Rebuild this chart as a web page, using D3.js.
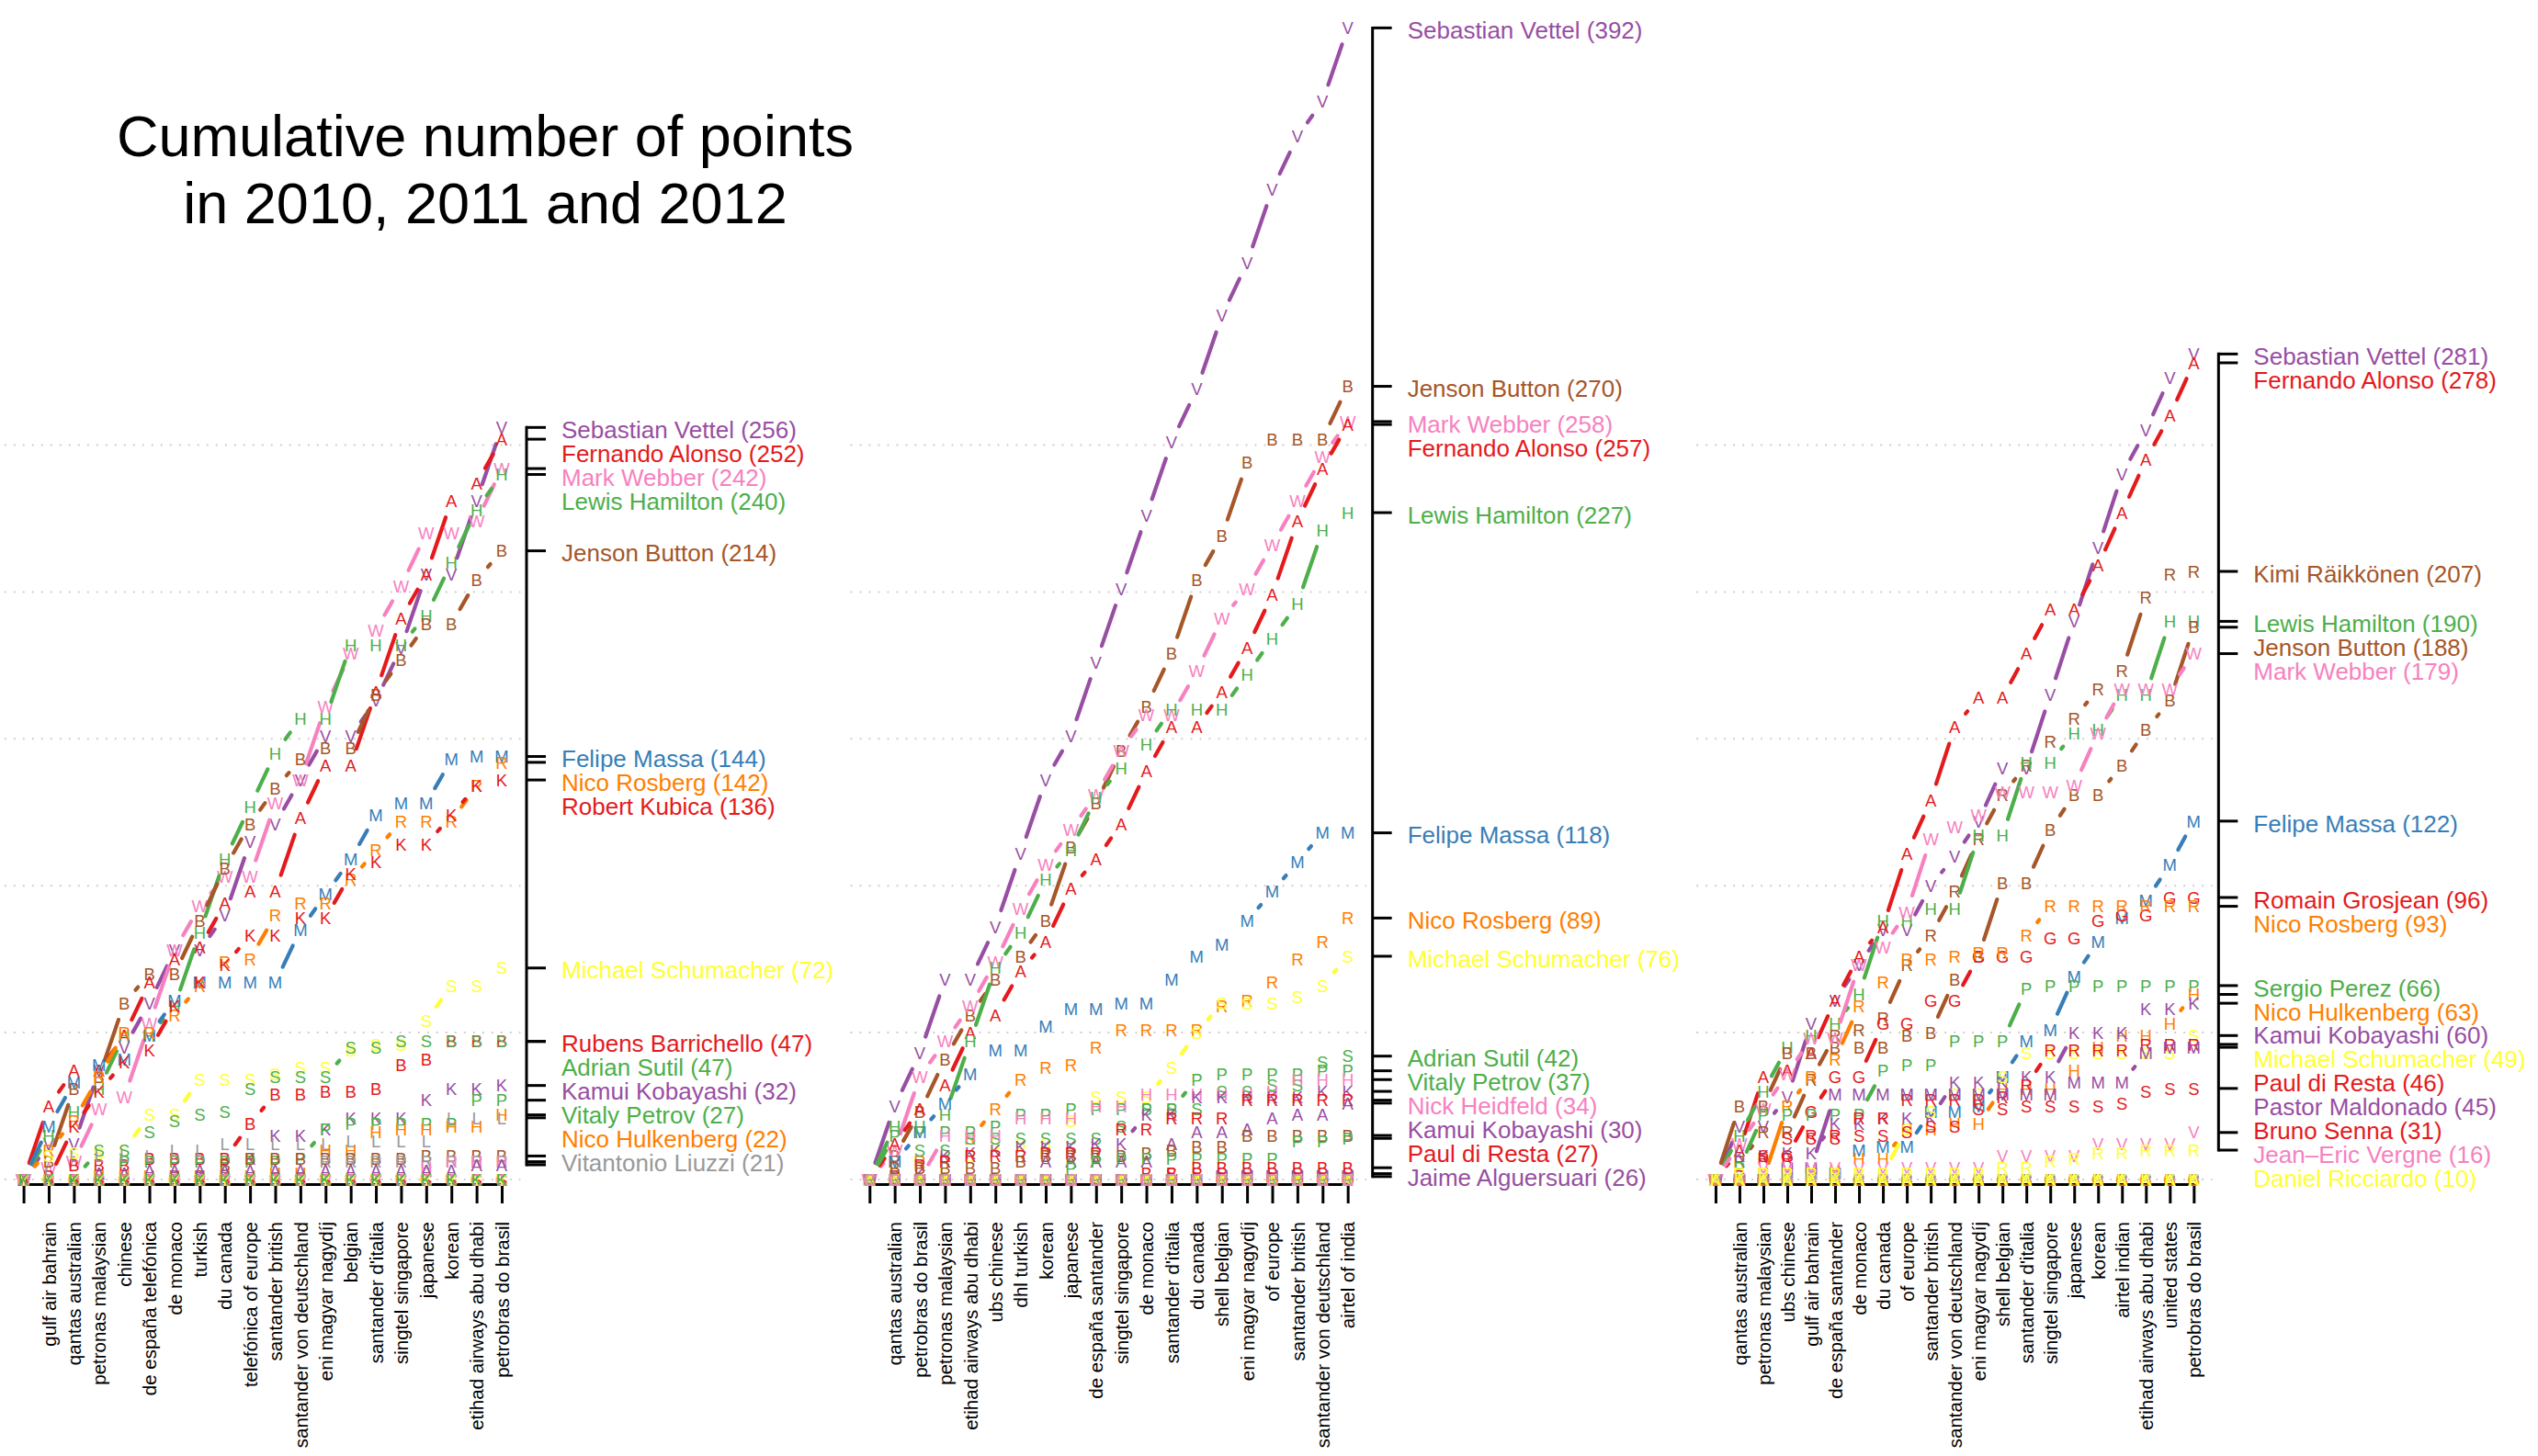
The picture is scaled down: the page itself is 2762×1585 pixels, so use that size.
<!DOCTYPE html>
<html><head><meta charset="utf-8">
<script src="https://cdn.jsdelivr.net/npm/d3@7"></script>
<style>
body{margin:0;background:#fff}
svg{display:block}
text{font-family:"Liberation Sans",Arial,Helvetica,sans-serif}
</style>
</head><body>
<svg id="chart" width="2762" height="1585"></svg>
<script>
// ---------------- DATA ----------------
const races2010 = ["gulf air bahrain","qantas australian","petronas malaysian","chinese","de españa telefónica","de monaco","turkish","du canada","telefónica of europe","santander british","santander von deutschland","eni magyar nagydíj","belgian","santander d'italia","singtel singapore","japanese","korean","etihad airways abu dhabi","petrobras do brasil"];
const races2011 = ["qantas australian","petrobras do brasil","petronas malaysian","etihad airways abu dhabi","ubs chinese","dhl turkish","korean","japanese","de españa santander","singtel singapore","de monaco","santander d'italia","du canada","shell belgian","eni magyar nagydíj","of europe","santander british","santander von deutschland","airtel of india"];
const races2012 = ["qantas australian","petronas malaysian","ubs chinese","gulf air bahrain","de españa santander","de monaco","du canada","of europe","santander british","santander von deutschland","eni magyar nagydíj","shell belgian","santander d'italia","singtel singapore","japanese","korean","airtel indian","etihad airways abu dhabi","united states","petrobras do brasil"];

// cumulative points, first value = before the first race
const z20 = [0,0,0,0,0,0,0,0,0,0,0,0,0,0,0,0,0,0,0,0];
const z21 = [0,0,0,0,0,0,0,0,0,0,0,0,0,0,0,0,0,0,0,0,0];

const vettel2010      = [0,12,12,37,45,60,78,78,90,115,121,136,151,151,163,181,206,206,231,256];
const alonso2010      = [0,25,37,37,49,67,75,79,94,98,98,123,141,141,166,191,206,231,237,252];
const webber2010      = [0,4,6,24,28,53,78,93,103,103,128,136,161,179,187,202,220,220,224,242];
const hamilton2010    = [0,15,23,31,49,49,59,84,109,127,145,157,157,182,182,182,192,210,228,240];
const button2010      = [0,6,31,35,60,70,70,88,106,121,133,143,147,147,165,177,189,189,204,214];
const massa2010       = [0,18,33,39,41,49,61,67,67,67,67,85,97,109,124,128,128,143,144,144];
const rosberg2010     = [0,10,20,35,50,50,56,66,74,75,90,94,94,102,112,122,122,122,134,142];
const kubica2010      = [0,0,18,30,40,44,59,67,73,83,83,89,89,104,108,114,114,124,134,136];
const schumacher2010  = [0,8,9,9,10,22,22,34,34,34,36,38,38,44,46,46,54,66,66,72];
const barrichello2010 = [0,1,5,5,5,7,7,7,7,19,29,29,30,30,31,39,41,47,47,47];
const sutil2010       = [0,0,0,10,10,16,20,22,23,31,35,35,35,45,45,47,47,47,47,47];
const kobayashi2010   = [0,0,0,0,0,0,0,1,1,7,15,15,17,21,21,21,27,31,31,32];
const petrov2010      = [0,0,0,0,6,6,6,6,6,6,6,7,17,19,19,19,19,19,27,27];
const hulkenberg2010  = [0,0,0,1,1,1,1,1,1,1,2,2,10,10,16,17,17,18,18,22];
const liuzzi2010      = [0,2,8,8,8,8,10,10,12,12,12,12,12,13,13,13,13,21,21,21];
const buemi2010       = [0,0,0,0,0,0,1,1,5,7,7,7,7,7,7,7,8,8,8,8];
const delarosa2010    = [0,0,0,0,0,0,0,0,0,0,0,0,6,6,6,6,6,6,6,6];
const heidfeld2010    = [0,0,0,0,0,0,0,0,0,0,0,0,0,0,0,0,4,6,6,6];
const alguersuari2010 = [0,0,0,2,2,3,3,3,3,3,3,3,3,3,3,3,3,3,5,5];

const vettel2011      = [0,25,43,68,68,86,111,136,151,176,201,226,251,269,294,312,337,355,367,392];
const button2011      = [0,8,23,41,56,68,76,88,113,128,146,161,179,204,219,244,252,252,252,270];
const webber2011      = [0,10,35,47,59,74,92,107,119,131,146,158,158,173,191,201,216,231,246,258];
const alonso2011      = [0,12,24,32,50,56,71,81,99,109,121,139,154,154,166,181,199,224,242,257];
const hamilton2011    = [0,18,18,22,47,72,84,102,112,130,140,148,160,160,160,172,184,196,221,227];
const massa2011       = [0,6,16,26,36,44,44,52,58,58,60,60,68,76,80,88,98,108,118,118];
const rosberg2011     = [0,0,6,6,14,24,34,38,39,45,51,51,51,51,59,61,67,75,81,89];
const schumacher2011  = [0,0,0,2,8,12,12,12,20,28,28,28,38,50,60,60,60,62,66,76];
const sutil2011       = [0,2,10,10,14,14,14,14,14,14,18,24,24,24,30,30,32,32,40,42];
const petrov2011      = [0,15,16,16,16,18,22,22,24,24,24,24,24,34,36,36,36,36,37,37];
const heidfeld2011    = [0,0,0,15,15,15,21,21,21,25,25,29,29,29,29,29,30,34,34,34];
const kobayashi2011   = [0,0,2,8,9,10,11,11,11,12,12,22,22,28,28,28,28,28,30,30];
const diresta2011     = [0,1,5,6,8,8,8,9,9,9,17,17,21,21,21,27,27,27,27,27];
const alguersuari2011 = [0,0,0,0,0,0,0,6,6,6,6,6,12,16,16,17,21,22,22,26];
const buemi2011       = [0,4,4,4,4,4,6,8,8,8,8,9,10,11,11,15,15,15,15,15];
const perez2011       = [0,0,0,0,0,0,0,0,4,6,7,7,7,7,7,7,7,13,13,14];
const barrichello2011 = [0,0,0,0,0,0,0,0,0,0,0,2,2,4,4,4,4,4,4,4];
const senna2011       = [0,0,0,0,0,0,0,0,0,0,0,0,2,2,2,2,2,2,2,2];
const maldonado2011   = [0,0,0,0,0,0,0,0,0,0,0,0,0,0,1,1,1,1,1,1];

const vettel2012      = [0,18,18,28,53,61,73,85,85,100,110,122,140,140,165,190,215,240,255,273,281];
const alonso2012      = [0,10,35,37,43,61,76,86,111,129,154,164,164,179,194,194,209,227,245,260,278];
const raikkonen2012   = [0,6,16,16,34,49,51,55,73,83,98,116,131,141,149,157,167,173,198,206,207];
const hamilton2012    = [0,15,30,45,49,53,63,88,88,92,92,117,117,142,142,152,153,165,165,190,190];
const button2012      = [0,25,25,43,43,45,45,45,49,50,68,76,101,101,119,131,131,141,153,163,188];
const webber2012      = [0,12,24,36,48,48,73,79,91,116,120,124,132,132,132,134,152,167,167,167,179];
const massa2012       = [0,0,0,0,2,2,10,11,11,23,23,25,35,47,51,69,81,89,95,107,122];
const grosjean2012    = [0,0,0,8,23,35,35,53,53,61,61,76,76,76,82,82,88,90,90,96,96];
const rosberg2012     = [0,0,0,25,35,41,59,67,75,75,76,77,77,83,93,93,93,93,93,93,93];
const perez2012       = [0,4,22,22,22,22,22,37,39,39,47,47,47,65,66,66,66,66,66,66,66];
const hulkenberg2012  = [0,0,2,2,2,3,7,7,17,17,19,19,31,31,31,37,45,49,49,53,63];
const kobayashi2012   = [0,8,8,9,9,19,19,21,21,21,33,33,33,35,35,50,50,50,58,58,60];
const schumacher2012  = [0,0,1,1,2,2,2,2,17,23,29,29,35,43,43,43,43,43,43,43,49];
const diresta2012     = [0,1,7,7,15,15,21,21,27,27,27,27,28,32,44,44,44,44,46,46,46];
const maldonado2012   = [0,0,0,4,4,29,29,29,29,29,29,29,29,29,29,33,33,33,43,45,45];
const senna2012       = [0,0,8,14,14,14,15,15,16,18,18,24,24,25,25,25,25,26,30,31,31];
const vergne2012      = [0,0,4,4,4,4,4,4,4,4,4,4,8,8,8,8,12,12,12,12,16];
const ricciardo2012   = [0,2,2,2,2,2,2,2,2,2,2,2,4,4,6,7,9,9,10,10,10];

// [driver, marker letter, values]
const season2010 = [
  ["Sebastian Vettel","V",vettel2010],["Fernando Alonso","A",alonso2010],["Mark Webber","W",webber2010],
  ["Lewis Hamilton","H",hamilton2010],["Jenson Button","B",button2010],["Felipe Massa","M",massa2010],
  ["Nico Rosberg","R",rosberg2010],["Robert Kubica","K",kubica2010],["Michael Schumacher","S",schumacher2010],
  ["Rubens Barrichello","B",barrichello2010],["Adrian Sutil","S",sutil2010],["Kamui Kobayashi","K",kobayashi2010],
  ["Vitaly Petrov","P",petrov2010],["Nico Hulkenberg","H",hulkenberg2010],["Vitantonio Liuzzi","L",liuzzi2010],
  ["Sebastien Buemi","B",buemi2010],["Pedro de la Rosa","R",delarosa2010],["Nick Heidfeld","H",heidfeld2010],
  ["Jaime Alguersuari","A",alguersuari2010],
  ["Heikki Kovalainen","K",z20],["Jarno Trulli","T",z20],["Timo Glock","G",z20],["Lucas di Grassi","G",z20],
  ["Bruno Senna","S",z20],["Karun Chandhok","C",z20],["Sakon Yamamoto","Y",z20],["Christian Klien","K",z20]
];
const season2011 = [
  ["Sebastian Vettel","V",vettel2011],["Jenson Button","B",button2011],["Mark Webber","W",webber2011],
  ["Fernando Alonso","A",alonso2011],["Lewis Hamilton","H",hamilton2011],["Felipe Massa","M",massa2011],
  ["Nico Rosberg","R",rosberg2011],["Michael Schumacher","S",schumacher2011],["Adrian Sutil","S",sutil2011],
  ["Vitaly Petrov","P",petrov2011],["Nick Heidfeld","H",heidfeld2011],["Kamui Kobayashi","K",kobayashi2011],
  ["Paul di Resta","R",diresta2011],["Jaime Alguersuari","A",alguersuari2011],["Sebastien Buemi","B",buemi2011],
  ["Sergio Perez","P",perez2011],["Rubens Barrichello","B",barrichello2011],["Bruno Senna","S",senna2011],
  ["Pastor Maldonado","M",maldonado2011],
  ["Heikki Kovalainen","K",z20],["Jarno Trulli","T",z20],["Timo Glock","G",z20],["Jerome d'Ambrosio","A",z20],
  ["Vitantonio Liuzzi","L",z20],["Narain Karthikeyan","K",z20],["Daniel Ricciardo","R",z20],
  ["Pedro de la Rosa","R",z20],["Karun Chandhok","C",z20]
];
const season2012 = [
  ["Sebastian Vettel","V",vettel2012],["Fernando Alonso","A",alonso2012],["Kimi Räikkönen","R",raikkonen2012],
  ["Lewis Hamilton","H",hamilton2012],["Jenson Button","B",button2012],["Mark Webber","W",webber2012],
  ["Felipe Massa","M",massa2012],["Romain Grosjean","G",grosjean2012],["Nico Rosberg","R",rosberg2012],
  ["Sergio Perez","P",perez2012],["Nico Hulkenberg","H",hulkenberg2012],["Kamui Kobayashi","K",kobayashi2012],
  ["Michael Schumacher","S",schumacher2012],["Paul di Resta","R",diresta2012],["Pastor Maldonado","M",maldonado2012],
  ["Bruno Senna","S",senna2012],["Jean–Eric Vergne","V",vergne2012],["Daniel Ricciardo","R",ricciardo2012],
  ["Vitaly Petrov","P",z21],["Heikki Kovalainen","K",z21],["Timo Glock","G",z21],["Charles Pic","P",z21],
  ["Pedro de la Rosa","R",z21],["Narain Karthikeyan","K",z21],["Jerome d'Ambrosio","A",z21]
];
const gridValues = [0,50,100,150,200,250];

// ---------------- STYLE ----------------
const C = {red:"#E41A1C",blue:"#377EB8",green:"#4DAF4A",purple:"#984EA3",orange:"#FF7F00",
           yellow:"#FFFF33",brown:"#A65628",pink:"#F781BF",grey:"#999999"};
const colorOf = {
  "Sebastian Vettel":C.purple,"Fernando Alonso":C.red,"Mark Webber":C.pink,"Lewis Hamilton":C.green,
  "Jenson Button":C.brown,"Felipe Massa":C.blue,"Nico Rosberg":C.orange,"Robert Kubica":C.red,
  "Michael Schumacher":C.yellow,"Rubens Barrichello":C.red,"Adrian Sutil":C.green,"Kamui Kobayashi":C.purple,
  "Vitaly Petrov":C.green,"Nico Hulkenberg":C.orange,"Vitantonio Liuzzi":C.grey,"Sebastien Buemi":C.brown,
  "Pedro de la Rosa":C.grey,"Nick Heidfeld":C.pink,"Jaime Alguersuari":C.purple,"Heikki Kovalainen":C.blue,
  "Jarno Trulli":C.grey,"Timo Glock":C.orange,"Lucas di Grassi":C.yellow,"Bruno Senna":C.red,
  "Karun Chandhok":C.pink,"Sakon Yamamoto":C.yellow,"Christian Klien":C.green,"Paul di Resta":C.red,
  "Sergio Perez":C.green,"Pastor Maldonado":C.purple,"Jerome d'Ambrosio":C.yellow,"Narain Karthikeyan":C.yellow,
  "Daniel Ricciardo":C.yellow,"Kimi Räikkönen":C.brown,"Romain Grosjean":C.red,"Jean–Eric Vergne":C.pink,
  "Charles Pic":C.pink
};

const svg = d3.select("#chart");
svg.append("rect").attr("width",2762).attr("height",1585).attr("fill","#fff");

const PANEL_W = 2762/3;
const Y0 = 1284, PX_PT = 3.198;
const y = d3.scaleLinear().domain([0,250]).range([Y0, Y0 - 250*PX_PT]);
const AXIS_Y = 1289;
const GAP = 19;      // gap around each marker (type = "b")
const LWD = 4.2;
const LABEL_STEP = 25.9;

// title
svg.append("text").attr("x",528).attr("y",170).attr("text-anchor","middle")
   .attr("font-size",63).attr("fill","#000").text("Cumulative number of points");
svg.append("text").attr("x",528).attr("y",243).attr("text-anchor","middle")
   .attr("font-size",63).attr("fill","#000").text("in 2010, 2011 and 2012");

function drawPanel(k, races, season){
  const n = races.length;
  const off = k*PANEL_W;
  const x = d3.scaleLinear().domain([0,n]).range([off+25.6, off+546]);
  const g = svg.append("g");

  // dotted grid
  g.selectAll(null).data(gridValues).join("line")
    .attr("x1", off+4.8).attr("x2", off+566.4)
    .attr("y1", d=>y(d)).attr("y2", d=>y(d))
    .attr("stroke","#cfcfcf").attr("stroke-width",2).attr("stroke-dasharray","2 8");

  // bottom axis
  const ax = d3.axisBottom(x).tickValues(d3.range(n+1)).tickSize(21).tickSizeOuter(0)
     .tickFormat(i => i===0 ? "" : races[i-1]);
  const ga = g.append("g").attr("transform",`translate(0,${AXIS_Y})`).call(ax);
  ga.attr("font-family",null).attr("font-size",null);
  ga.select(".domain").attr("stroke","#000").attr("stroke-width",3);
  ga.selectAll(".tick line").attr("stroke","#000").attr("stroke-width",3);
  ga.selectAll(".tick text")
    .attr("transform","rotate(-90)").attr("x",-41).attr("y",0).attr("dy","0.35em")
    .attr("text-anchor","end").attr("font-size",20.5).attr("fill","#000");

  // series: gapped segments + letters
  season.forEach(([name, letter, vals]) => {
    const col = colorOf[name];
    const pts = vals.map((v,i)=>[x(i), y(v)]);
    const segs = [];
    for(let i=0;i<pts.length-1;i++){
      const [x0,y0]=pts[i], [x1,y1]=pts[i+1];
      const L = Math.hypot(x1-x0,y1-y0);
      if(L > 2*GAP){
        const f = GAP/L;
        segs.push([x0+f*(x1-x0), y0+f*(y1-y0), x1-f*(x1-x0), y1-f*(y1-y0)]);
      }
    }
    g.selectAll(null).data(segs).join("line")
      .attr("x1",d=>d[0]).attr("y1",d=>d[1]).attr("x2",d=>d[2]).attr("y2",d=>d[3])
      .attr("stroke",col).attr("stroke-width",LWD).attr("stroke-linecap","round");
    g.selectAll(null).data(pts).join("text")
      .attr("x",d=>d[0]).attr("y",d=>d[1]).attr("dy","0.36em")
      .attr("text-anchor","middle").attr("font-size",18.5).attr("fill",col).text(letter);
  });

  // right-hand axis with final totals
  const scorers = season.filter(d => d[2][d[2].length-1] > 0)
      .map(d => ({name:d[0], total:d[2][d[2].length-1]}));
  const axX = off+573;
  const ys = scorers.map(d=>y(d.total));
  g.append("line").attr("x1",axX).attr("x2",axX)
    .attr("y1",d3.min(ys)-1.5).attr("y2",d3.max(ys)+1.5)
    .attr("stroke","#000").attr("stroke-width",3);
  g.selectAll(null).data(scorers).join("line")
    .attr("x1",axX).attr("x2",axX+21).attr("y1",d=>y(d.total)).attr("y2",d=>y(d.total))
    .attr("stroke","#000").attr("stroke-width",3);
  let prev = -Infinity;
  const labels = [];
  scorers.forEach(d=>{
    const ly = Math.max(y(d.total), prev + LABEL_STEP);
    prev = ly;
    if(ly <= Y0) labels.push({...d, ly});
  });
  g.selectAll(null).data(labels).join("text")
    .attr("x",off+611).attr("y",d=>d.ly).attr("dy","0.45em")
    .attr("font-size",26).attr("fill",d=>colorOf[d.name])
    .text(d=>`${d.name} (${d.total})`);
}

drawPanel(0, races2010, season2010);
drawPanel(1, races2011, season2011);
drawPanel(2, races2012, season2012);
</script>
</body></html>
